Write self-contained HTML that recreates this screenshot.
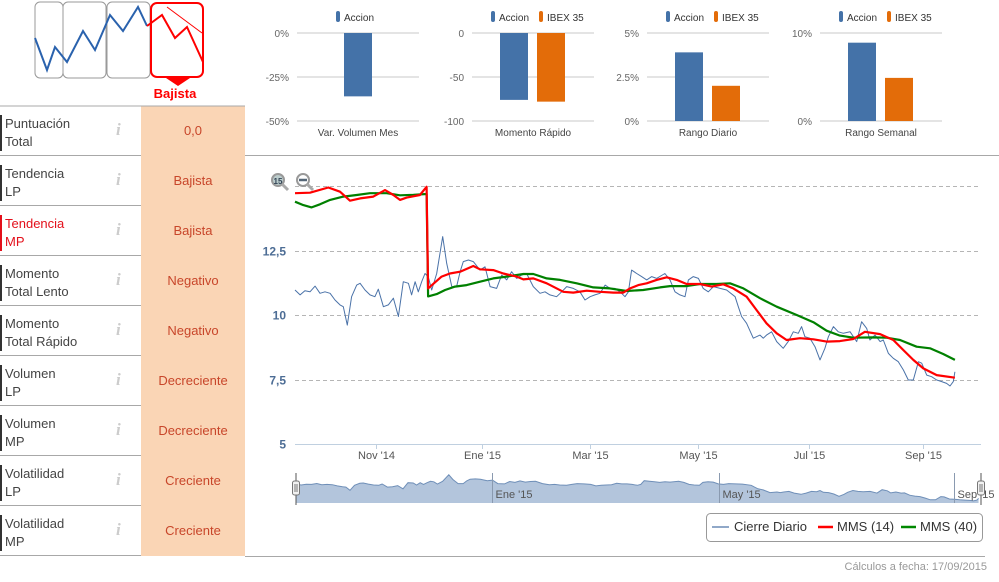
<!DOCTYPE html>
<html><head><meta charset="utf-8">
<style>
*{box-sizing:border-box;margin:0;padding:0}
body{width:999px;height:582px;background:#fff;font-family:"Liberation Sans",sans-serif;position:relative;overflow:hidden}
.row{position:absolute;left:0;width:245px;height:50px;border-bottom:1px solid #a8a8a8}
.lab{position:absolute;left:0;top:9px;border-left:2px solid #333;padding-left:3px;font-size:13px;line-height:18px;color:#444;width:120px}
.lab.red{color:#e3101b;border-left-color:#e3101b}
.info{position:absolute;left:116px;top:14px;font-family:"Liberation Serif",serif;font-style:italic;font-weight:bold;font-size:17px;color:#ccc}
.val{position:absolute;left:141px;top:0;width:104px;height:50px;background:#fad5b5;color:#c8462a;font-size:13px;text-align:center;line-height:50px}
svg text{font-family:"Liberation Sans",sans-serif}
</style></head><body>
<svg width="245" height="106" style="position:absolute;left:0;top:0">
<rect x="35" y="2" width="28" height="76" rx="5" fill="#fff" stroke="#999" stroke-width="1"/>
<rect x="63" y="2" width="43" height="76" rx="5" fill="#fff" stroke="#999"/>
<rect x="107" y="2" width="43" height="76" rx="5" fill="#fff" stroke="#999"/>
<rect x="151" y="3" width="52" height="74" rx="6" fill="#fff" stroke="#f00" stroke-width="2"/>
<polygon points="166,78 190,78 178,86" fill="#f00"/>
<polyline points="35,38 47,70 55,47 67,62 83,31 95,50 110,15 123,31 138,7 147,26" fill="none" stroke="#2a62ad" stroke-width="2"/>
<polyline points="147,26 162,15 175,38 187,27 203,62" fill="none" stroke="#f00" stroke-width="2"/>
<line x1="167" y1="7" x2="202" y2="33" stroke="#f00" stroke-width="1"/>
<text x="175" y="98" text-anchor="middle" font-size="13" font-weight="bold" fill="#f00">Bajista</text>
</svg>

<div class="row" style="top:106px"><div class="lab">Puntuación<br>Total</div><div class="info">i</div><div class="val">0,0</div></div>
<div class="row" style="top:156px"><div class="lab">Tendencia<br>LP</div><div class="info">i</div><div class="val">Bajista</div></div>
<div class="row" style="top:206px"><div class="lab red">Tendencia<br>MP</div><div class="info">i</div><div class="val">Bajista</div></div>
<div class="row" style="top:256px"><div class="lab">Momento<br>Total Lento</div><div class="info">i</div><div class="val">Negativo</div></div>
<div class="row" style="top:306px"><div class="lab">Momento<br>Total Rápido</div><div class="info">i</div><div class="val">Negativo</div></div>
<div class="row" style="top:356px"><div class="lab">Volumen<br>LP</div><div class="info">i</div><div class="val">Decreciente</div></div>
<div class="row" style="top:406px"><div class="lab">Volumen<br>MP</div><div class="info">i</div><div class="val">Decreciente</div></div>
<div class="row" style="top:456px"><div class="lab">Volatilidad<br>LP</div><div class="info">i</div><div class="val">Creciente</div></div>
<div class="row" style="top:506px"><div class="lab">Volatilidad<br>MP</div><div class="info">i</div><div class="val">Creciente</div></div>

<svg id="main" width="999" height="582" style="position:absolute;left:0;top:0">
<line x1="0" y1="106" x2="245" y2="106" stroke="#a8a8a8"/>
<line x1="245" y1="155.5" x2="999" y2="155.5" stroke="#a8a8a8"/>
<line x1="245" y1="556.5" x2="985" y2="556.5" stroke="#a8a8a8"/>
<text x="987" y="570" text-anchor="end" font-size="11" fill="#999">Cálculos a fecha: 17/09/2015</text>
<g id="minis"></g>
<g id="grid"></g>
<g id="series"></g>
<g id="nav"></g>
<g><circle cx="278" cy="180" r="6" fill="#bcc" stroke="#999" stroke-width="2"/><line x1="282" y1="184" x2="288" y2="190" stroke="#aaa" stroke-width="3"/><text x="278" y="184" text-anchor="middle" font-size="8" font-weight="bold" fill="#345">15</text></g>
<g><circle cx="303" cy="180" r="6" fill="#fff" stroke="#999" stroke-width="2"/><line x1="299" y1="180" x2="307" y2="180" stroke="#567" stroke-width="2.5"/><line x1="307" y1="184" x2="313" y2="190" stroke="#aaa" stroke-width="3"/></g>
<g>
<rect x="706.5" y="513.5" width="276" height="28" rx="4" fill="#fff" stroke="#999"/>
<line x1="712" y1="527" x2="729" y2="527" stroke="#90a8c8" stroke-width="2"/><text x="734" y="531" font-size="13" fill="#333">Cierre Diario</text>
<line x1="818" y1="527" x2="833" y2="527" stroke="#f00" stroke-width="2.5"/><text x="837" y="531" font-size="13" fill="#333">MMS (14)</text>
<line x1="901" y1="527" x2="916" y2="527" stroke="#080" stroke-width="2.5"/><text x="920" y="531" font-size="13" fill="#333">MMS (40)</text>
</g>
</svg>
<script>
const ns="http://www.w3.org/2000/svg";
function mk(p,tag,a){const e=document.createElementNS(ns,tag);for(const k in a)e.setAttribute(k,a[k]);p.appendChild(e);return e;}

// ---- mini bar charts ----
const miniTitles=["Var. Volumen Mes","Momento Rápido","Rango Diario","Rango Semanal"];
const miniAccion=[-36,-76,3.9,8.9];
const miniIbex=[null,-78,2.0,4.9];
const miniMax=[0,0,5,10];
const miniMin=[-50,-100,0,0];
const miniTicks=[["0%","-25%","-50%"],["0","-50","-100"],["5%","2.5%","0%"],["10%","0%"]];
const miniLeft=[297,472,647,820];
const minis=document.getElementById('minis');
for(let i=0;i<4;i++){
  const x0=miniLeft[i],w=122,top=33,bot=121;
  const Y=v=>top+(miniMax[i]-v)/(miniMax[i]-miniMin[i])*(bot-top);
  const tk=miniTicks[i];
  for(let j=0;j<tk.length;j++){
    const y=top+j*(bot-top)/(tk.length-1);
    const gl=mk(minis,'line',{x1:x0,x2:x0+w,y1:y,y2:y,stroke:'#c8c8c8','stroke-width':1});
    
    
    const t=mk(minis,'text',{x:x0-8,y:y+4,'text-anchor':'end','font-size':10,fill:'#666'});t.textContent=tk[j];
    
    
  }
  const two=miniIbex[i]!==null;
  const cx=x0+w/2;
  const bx1=two?cx-33:cx-14;
  const y0=Y(0),ya=Y(miniAccion[i]);
  const b1=mk(minis,'rect',{x:bx1,y:Math.min(y0,ya),width:28,height:Math.abs(ya-y0),fill:'#4472a8'});
  
  
  if(two){const yb=Y(miniIbex[i]);
    const b2=mk(minis,'rect',{x:cx+4,y:Math.min(y0,yb),width:28,height:Math.abs(yb-y0),fill:'#e36c09'});
    
    }
  const ct=mk(minis,'text',{x:cx,y:136,'text-anchor':'middle','font-size':10,fill:'#444'});ct.textContent=miniTitles[i];
  
  
  const lg=mk(minis,'g',{});
  
  
  const lx=two?cx-42:cx-22;
  mk(lg,'rect',{x:lx,y:11,width:4,height:11,rx:2,fill:'#4472a8'});
  mk(lg,'text',{x:lx+8,y:21,'font-size':10,fill:'#333'}).textContent='Accion';
  if(two){mk(lg,'rect',{x:lx+48,y:11,width:4,height:11,rx:2,fill:'#e36c09'});
    mk(lg,'text',{x:lx+56,y:21,'font-size':10,fill:'#333'}).textContent='IBEX 35';}
}

// ---- main price chart data (days since 17/09/2014) ----
const priceDays=[0,2.8,5.5,8.3,11.1,13.8,16.6,19.4,22.1,24.9,26.7,28.9,31.3,34.1,36,38.7,41.5,44.2,46.1,48.9,51.6,54.4,57.2,59.9,62.7,64.5,66.4,68.2,70.1,71.9,73.7,75.6,78.4,81.7,83.9,86.7,89.4,91.3,93.1,95.9,98.6,102.3,105.1,107.9,111.5,114.3,117.1,119.8,122.6,125.4,128.1,131.8,135.5,138.3,141,144.7,147.5,150.3,153.9,157.6,160.4,163.2,165.9,168.7,171.5,174.2,177,179.8,182.5,184.4,186.2,189,191.7,194.5,197.3,200,204.6,207.4,210.2,212.9,215.7,217.6,220.3,223.1,225.8,228.6,231.4,235.1,238.7,243.4,245.2,247,249.8,253.5,257.2,259,260.8,263.6,266.4,270,272.8,275.6,278.4,280.2,282,284.8,287.6,290.4,293.1,295,297.8,300.5,303.3,307,310.7,313.4,316.2,318,320.8,323.6,325.4,328.2,330.9,333.7,336.5,339.2,342,344.8,346.6,349.4,352.1,354.9,357.7,360.4,362.3,364.1,365];
const priceVals=[10.97,10.78,10.94,10.9,11.12,10.84,10.9,10.84,10.58,10.39,10.32,9.61,10.71,11.16,11.23,10.97,10.78,10.71,11.0,10.32,10.39,10.65,9.94,11.29,11.23,10.78,11.29,10.9,11.29,11.61,11.49,10.97,11.61,13.04,12.0,11.1,11.1,11.68,12.07,12.13,12.07,11.74,11.87,11.1,11.03,11.55,11.36,11.68,11.42,11.55,11.61,11.1,10.84,10.9,10.78,10.71,10.9,11.1,11.03,10.9,10.58,10.71,10.78,10.84,11.16,11.03,11.03,10.9,10.71,10.9,11.74,11.61,11.49,11.36,11.49,11.42,11.61,11.36,10.9,10.78,10.71,11.36,11.49,11.42,11.03,10.9,11.1,11.03,10.97,10.71,10.32,9.94,9.68,9.1,9.22,9.1,9.22,9.35,8.97,8.71,8.97,9.35,9.29,9.55,9.16,9.1,8.77,8.26,8.71,9.16,9.55,9.35,9.29,9.35,8.97,9.74,9.48,9.03,9.22,8.97,9.03,8.51,8.32,8.19,7.87,7.48,7.48,8.19,8.13,7.67,7.61,7.48,7.42,7.35,7.25,7.42,7.8];
const mms14Days=[0,8.3,18.4,24.9,30.4,36,43.3,49.8,54.4,58.1,61.8,69.1,72.8,73.6,81.1,85.7,91.3,98.6,102.3,109.7,115.2,122.6,126.3,131.8,139.2,148.4,153.9,161.3,168.7,176.1,181.6,185.3,189.9,194.5,200,205.6,211.1,216.6,224,230.5,236.9,242.4,249.8,255.3,260.8,266.4,271.9,279.3,286.7,294,301.4,308.8,315.2,323.6,330.9,336.5,342,347.5,354.9,365];
const mms14Vals=[14.72,14.74,14.94,14.78,14.43,14.52,14.59,14.84,14.65,14.46,14.55,14.65,14.97,11.03,11.49,11.61,11.68,11.9,11.77,11.74,11.61,11.49,11.38,11.42,11.23,10.9,10.87,10.94,10.9,10.87,10.87,11.03,11.16,11.23,11.36,11.46,11.36,11.2,11.2,11.1,11.19,11.03,10.71,10.19,9.68,9.29,9.03,9.1,9.06,8.97,8.99,9.07,9.35,9.26,9.03,8.64,8.26,7.93,7.67,7.57];
const mms40Days=[0,4.6,9.2,13.8,19.4,26.7,34.1,41.5,50.7,58.1,65.5,72.8,73.6,78.4,83,88.5,94.9,102.3,109.7,117.1,126.3,131.8,139.2,146.6,155.8,165,174.2,183.4,192.6,201.9,207.4,216.6,224,233.2,240.6,248,257.2,266.4,277.5,286.7,294,301.4,308.8,319.8,327.2,334.6,343.8,351.2,358.5,365];
const mms40Vals=[14.39,14.26,14.17,14.29,14.46,14.59,14.65,14.72,14.72,14.64,14.66,14.69,10.72,10.81,10.97,11.1,11.16,11.29,11.42,11.49,11.59,11.59,11.42,11.36,11.23,11.07,11.03,10.93,10.97,11.07,11.12,11.12,11.2,11.2,11.23,11.03,10.65,10.32,10.0,9.72,9.39,9.2,9.12,9.13,9.12,9.03,8.77,8.71,8.49,8.26];
const yTicks=[15,12.5,10,7.5,5];
const yTickLabels=["15","12,5","10","7,5","5"];
const xTickDays=[44.8,103.4,163.2,222.9,284.3,347.3];
const xTickLabels=["Nov '14","Ene '15","Mar '15","May '15","Jul '15","Sep '15"];
const navTickDays=[105,226,352];
const navTickLabels=["Ene '15","May '15","Sep '15"];

const X=d=>295+d*1.808;
const Y=v=>186+(15-v)*25.8;
const grid=document.getElementById('grid');
yTicks.forEach((v,i)=>{
  const y=Math.round(Y(v))+0.5;
  if(i<yTicks.length-1){
    const l=mk(grid,'line',{x1:295,x2:980,y1:y,y2:y,stroke:'#b5b5b5','stroke-dasharray':'4,3'});
    
    
  }
  if(i>0){
    const t=mk(grid,'text',{x:286,y:y+4,'text-anchor':'end','font-size':12,'font-weight':'bold',fill:'#4d6d95'});t.textContent=yTickLabels[i];
    
    
  }
});
const ax=mk(grid,'line',{x1:295,x2:981,y1:444.5,y2:444.5,stroke:'#c0d0e0'});


xTickDays.forEach((d,i)=>{
  const x=Math.round(X(d))+0.5;
  mk(grid,'line',{x1:x,x2:x,y1:444,y2:449,stroke:'#c0d0e0'});
  const t=mk(grid,'text',{x:x,y:459,'text-anchor':'middle','font-size':11,fill:'#555'});t.textContent=xTickLabels[i];
  
  
});
const ser=document.getElementById('series');
function line(days,vals,col,w,name){
  const p=days.map((d,i)=>X(d).toFixed(1)+','+Y(vals[i]).toFixed(1)).join(' ');
  const e=mk(ser,'polyline',{points:p,fill:'none',stroke:col,'stroke-width':w,'stroke-linejoin':'round'});
  
  
}
line(priceDays,priceVals,'#4a72a8',1,'cierre-diario-line');
line(mms40Days,mms40Vals,'#008000',2.2,'mms40-line');
line(mms14Days,mms14Vals,'#ff0000',2.2,'mms14-line');

// ---- navigator ----
const nav=document.getElementById('nav');
const NX=d=>296+d*1.87;
const NY=v=>484+(11-v)*4.5;
let ap='M'+NX(0)+',503 '+priceDays.map((d,i)=>'L'+NX(d).toFixed(1)+','+NY(priceVals[i]).toFixed(1)).join(' ')+' L'+NX(365)+',503 Z';
const area=mk(nav,'path',{d:ap,fill:'#b3c5dc',stroke:'none'});


const nl=mk(nav,'polyline',{points:priceDays.map((d,i)=>NX(d).toFixed(1)+','+NY(priceVals[i]).toFixed(1)).join(' '),fill:'none',stroke:'#6f8fb8','stroke-width':1});


navTickDays.forEach((d,i)=>{
  const x=Math.round(NX(d))+0.5;
  mk(nav,'line',{x1:x,x2:x,y1:473,y2:503,stroke:'#8a9ab0'});
  const t=mk(nav,'text',{x:x+3,y:498,'font-size':11,fill:'#555'});t.textContent=navTickLabels[i];
  
  
});
[296,981].forEach((x,i)=>{
  const g=mk(nav,'g',{});
  
  
  mk(g,'line',{x1:x,x2:x,y1:473,y2:505,stroke:'#555'});
  mk(g,'rect',{x:x-3.5,y:481,width:7,height:14,rx:2,fill:'#f2f2f2',stroke:'#777'});
  mk(g,'line',{x1:x-1,x2:x-1,y1:484,y2:492,stroke:'#777'});
  mk(g,'line',{x1:x+1,x2:x+1,y1:484,y2:492,stroke:'#777'});
});
</script>
</body></html>
